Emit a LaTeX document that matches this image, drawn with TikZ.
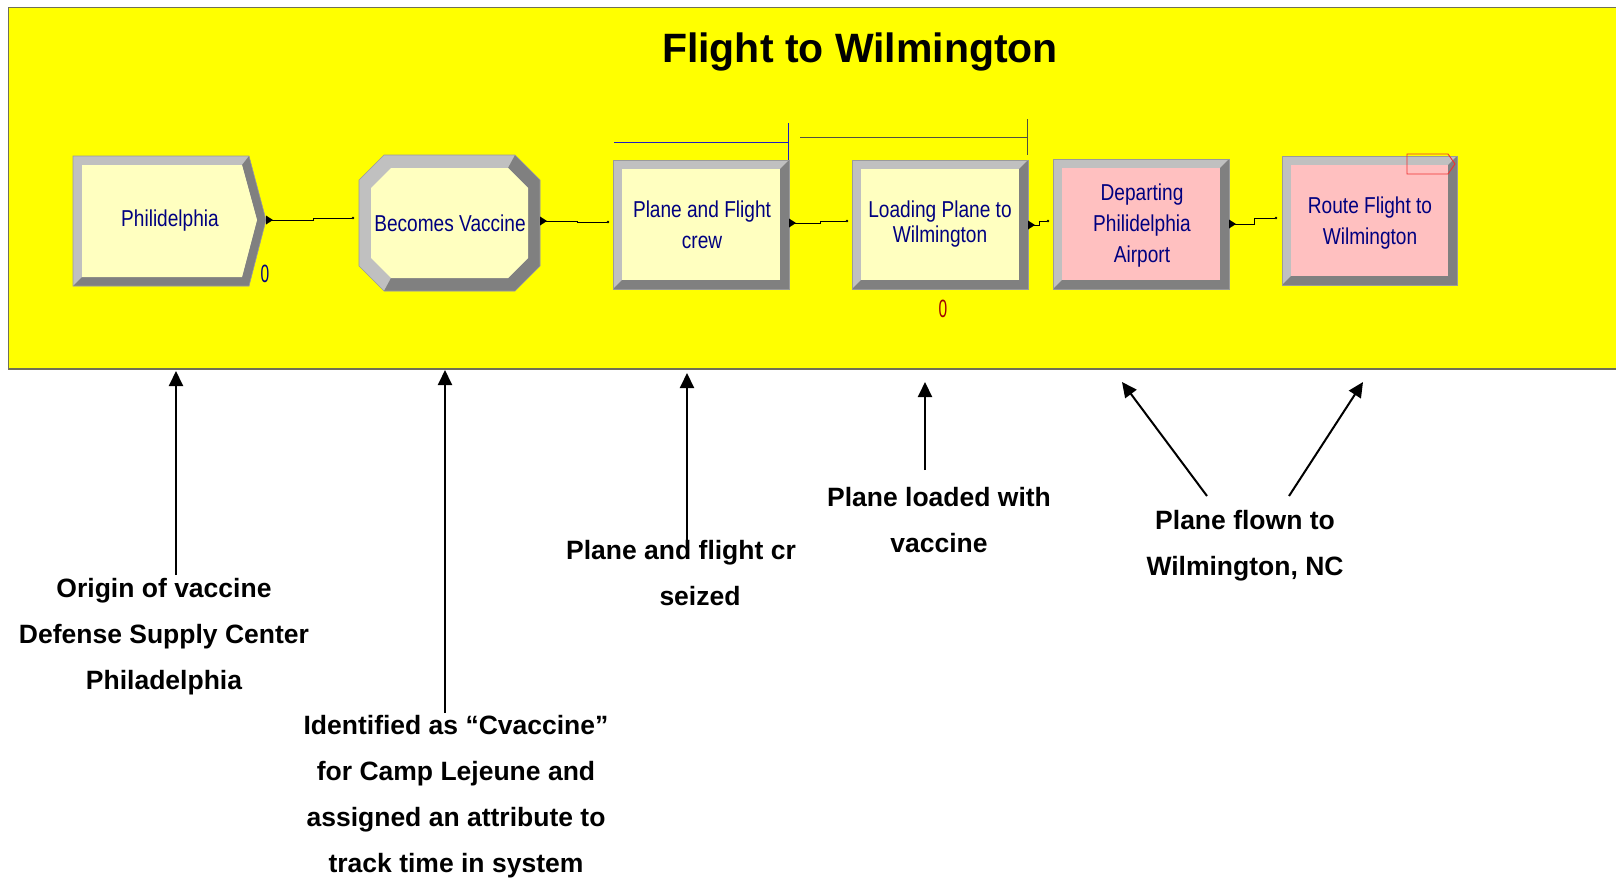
\documentclass[tikz,border=0pt]{standalone}
\usepackage{fontspec}
\setmainfont{Liberation Sans}
\newfontfamily\arena[FakeStretch=0.83]{Liberation Sans}
\newfontfamily\cntfont[FakeStretch=0.62]{Liberation Sans}
\usetikzlibrary{arrows.meta,calc}
\definecolor{ybg}{HTML}{FFFF00}
\definecolor{lyel}{HTML}{FFFFC0}
\definecolor{pinkf}{HTML}{FFC0C0}
\definecolor{lg}{HTML}{C0C0C0}
\definecolor{dg}{HTML}{808080}
\definecolor{navy}{HTML}{000080}
\definecolor{dred}{HTML}{A00000}
\definecolor{rline}{HTML}{2020C0}
\definecolor{kline}{HTML}{505040}
\definecolor{frame}{HTML}{707058}
\definecolor{redmark}{HTML}{F03030}
\newcommand\rectmodule[6]{%
  \fill[lg] (#2,#3) rectangle (#4,#5);
  \fill[dg] (#4,#3) -- (#4,#5) -- (#2,#5) -- ({#2+9},{#5-9}) -- ({#4-9},{#5-9}) -- ({#4-9},{#3+9}) -- cycle;
  \fill[#6] ({#2+9},{#3+9}) rectangle ({#4-9},{#5-9});
  \draw[outl] (#2,#3) rectangle (#4,#5);
}
\begin{document}
\begin{tikzpicture}[x=1pt,y=-1pt,
  outl/.style={draw=lg!80!black, line width=0.6pt},
  modtext/.style={font=\arena\fontsize{23}{31}\selectfont, text=navy, align=center, inner sep=0pt},
  counter/.style={font=\cntfont\fontsize{25}{25}\selectfont, inner sep=0pt},
  note/.style={font=\bfseries\fontsize{26.5}{46}\selectfont, align=center, inner sep=0pt},
  callout/.style={line width=2pt, -{Triangle[length=15pt,width=14pt]}},
  conn/.style={line width=0.9pt},
  entry/.style={circle, fill=black, inner sep=0pt, minimum size=2.6pt},
  exitmark/.style={fill=black}]
\useasboundingbox (0,0) rectangle (1616,878);
% background panel
\draw[frame, line width=1.5pt, fill=ybg] (8.5,7.5) rectangle (1630,369);
\node[font=\bfseries\fontsize{41}{41}\selectfont, inner sep=0pt] (title) at (860,52) {Flight to Wilmington};

% Module 1: create
\fill[lg] (73,156) -- (249,156) -- (266,220) -- (249,286) -- (73,286) -- cycle;
\fill[dg] (249,156) -- (266,220) -- (249,286) -- (73,286) -- (82,277) -- (242,277) -- (257,220) -- (242,165) -- cycle;
\fill[lyel] (82,165) -- (242,165) -- (257,220) -- (242,277) -- (82,277) -- cycle;
\draw[outl] (73,156) -- (249,156) -- (266,220) -- (249,286) -- (73,286) -- cycle;
\node[modtext, minimum width=193pt, minimum height=130pt] (m1) at (170,221) {Philidelphia};
\node[counter, text=navy] (c1) at (265,274) {0};

% Module 2: assign (octagon)
\fill[lg] (384,155) -- (515,155) -- (540,180) -- (540,266) -- (515,291) -- (384,291) -- (359,266) -- (359,180) -- cycle;
\fill[dg] (515,155) -- (540,180) -- (540,266) -- (515,291) -- (384,291) -- (391,278) -- (508,278) -- (528,258) -- (528,188) -- (508,168) -- cycle;
\fill[lyel] (391,168) -- (508,168) -- (528,188) -- (528,258) -- (508,278) -- (391,278) -- (371,258) -- (371,188) -- cycle;
\draw[outl] (384,155) -- (515,155) -- (540,180) -- (540,266) -- (515,291) -- (384,291) -- (359,266) -- (359,180) -- cycle;
\node[modtext, minimum width=181pt, minimum height=136pt] (m2) at (450,223) {Becomes Vaccine};

% Module 3: seize
\draw[rline, line width=1pt] (614,142) -- (788,142) (788,123) -- (788,160);
\rectmodule{m3}{613}{160}{789}{289}{lyel}
\node[modtext, minimum width=176pt, minimum height=129pt] (m3) at (702,225) {Plane and Flight\\crew};

% Module 4: process
\draw[kline, line width=1pt] (800,137) -- (1027,137) (1027,119) -- (1027,155);
\rectmodule{m4}{852}{160}{1028}{289}{lyel}
\node[modtext, font=\arena\fontsize{23}{25}\selectfont, minimum width=176pt, minimum height=129pt] (m4) at (940,224.5) {Loading Plane to\\Wilmington};
\node[counter, text=dred] (c4) at (943,309) {0};

% Module 5: station
\rectmodule{m5}{1053}{159}{1229}{289}{pinkf}
\node[modtext, minimum width=176pt, minimum height=130pt] (m5) at (1142,226) {Departing\\Philidelphia\\Airport};

% Module 6: route
\rectmodule{m6}{1282}{156}{1457}{285}{pinkf}
\node[modtext, minimum width=175pt, minimum height=129pt] (m6) at (1370,223) {Route Flight to\\Wilmington};
\draw[redmark, line width=0.9pt] (1407,154) -- (1448,154) -- (1455,164) -- (1448,174) -- (1407,174) -- cycle;

% exit points and entry points
\coordinate (m1x) at (266,220);
\coordinate (m2x) at (540,221);
\coordinate (m3x) at (789,223);
\coordinate (m4x) at (1028,225);
\coordinate (m5x) at (1229,224);
\node[entry] (m2in) at (353,218) {};
\node[entry] (m3in) at (608,222) {};
\node[entry] (m4in) at (847,221) {};
\node[entry] (m5in) at (1048,221) {};
\node[entry] (m6in) at (1276,218) {};
\foreach \x in {m1x,m2x,m3x,m4x,m5x}{
  \fill[exitmark] ($(\x)+(0,-4.5)$) -- ($(\x)+(7,0)$) -- ($(\x)+(0,4.5)$) -- cycle;
}
\foreach \a/\b in {m1x/m2in,m2x/m3in,m3x/m4in,m4x/m5in,m5x/m6in}{
  \coordinate (j) at ($(\a)!0.55!(\b)$);
  \draw[conn] (\a) -- (\a -| j) -- (j |- \b) -- (\b);
}

% annotations
\node[note] (n1) at (164,637) {Origin of vaccine\\Defense Supply Center\\Philadelphia};
\node[note] (n2) at (456,797) {Identified as “Cvaccine”\\for Camp Lejeune and\\assigned an attribute to\\track time in system};
\node[note] (n3) at (681,573) {Plane and flight cr\\\hspace*{38pt}seized};
\node[note] (n4) at (939,520) {Plane loaded with\\vaccine};
\node[note] (n5) at (1245,546) {Plane flown to\\Wilmington, NC};

\coordinate (a1s) at (176,575);  \coordinate (a1e) at (176,371);
\coordinate (a2s) at (445,713);  \coordinate (a2e) at (445,370);
\coordinate (a3s) at (687,540);  \coordinate (a3e) at (687,373);
\coordinate (a4s) at (925,470);  \coordinate (a4e) at (925,382);
\coordinate (a5s) at (1207,496); \coordinate (a5e) at (1122,382);
\coordinate (a6s) at (1289,496); \coordinate (a6e) at (1363,382);
\foreach \s/\e in {a1s/a1e,a2s/a2e,a3s/a3e,a4s/a4e,a5s/a5e,a6s/a6e}{
  \draw[callout] (\s) -- (\e);
}
\end{tikzpicture}
\end{document}
